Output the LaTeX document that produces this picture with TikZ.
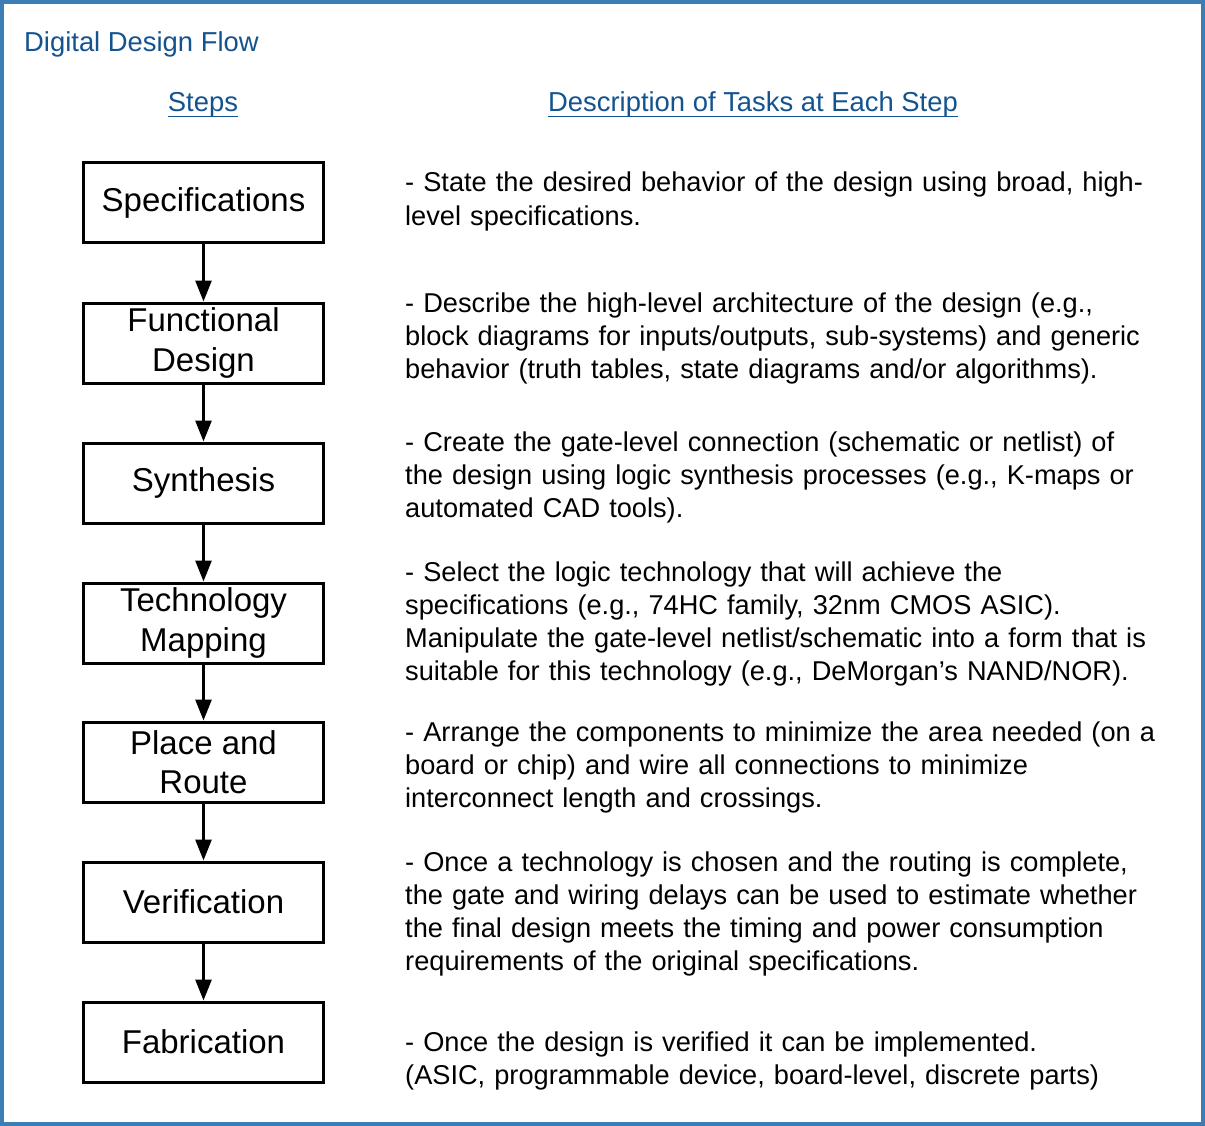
\documentclass[tikz,border=0pt]{standalone}
\usepackage{fontspec}
\setmainfont{Liberation Sans}
\usetikzlibrary{arrows.meta}
\definecolor{framecol}{HTML}{3C7DB5}
\definecolor{headcol}{HTML}{13538F}
\begin{document}
\begin{tikzpicture}[x=1pt,y=-1pt,
 stepbox/.style={draw,line width=3pt,minimum width=240pt,minimum height=80pt,inner sep=0pt,align=center,font=\fontsize{33}{39.5}\selectfont},
 desc/.style={anchor=base west,align=left,inner sep=0pt,text width=790pt,font=\fontsize{27.2}{33.2}\selectfont},
 flow/.style={line width=2.8pt,-{Triangle[length=21pt,width=16pt]}},
 head/.style={text=headcol,font=\fontsize{27.4}{33}\selectfont,inner sep=0pt},
 uline/.style={draw=headcol,line width=1.8pt}]
\useasboundingbox (0,0) rectangle (1205,1126);
\draw[framecol,line width=4pt] (2,2) rectangle (1203,1124);

\node[head,anchor=base west] (title) at (24,52) {Digital Design Flow};
\node[head,anchor=base] (hsteps) at (203,112) {Steps};
\node[head,anchor=base] (hdesc) at (753,112) {Description of Tasks at Each Step};
\draw[uline] ([yshift=-4.5pt]hsteps.base west) -- ([yshift=-4.5pt]hsteps.base east);
\draw[uline] ([yshift=-4.5pt]hdesc.base west) -- ([yshift=-4.5pt]hdesc.base east);

\node[stepbox] (s1) at (203.5,203) {Specifications};
\node[stepbox] (s2) at (203.5,343) {Functional\\Design};
\node[stepbox] (s3) at (203.5,483) {Synthesis};
\node[stepbox] (s4) at (203.5,623) {Technology\\Mapping};
\node[stepbox] (s5) at (203.5,762) {Place and\\Route};
\node[stepbox] (s6) at (203.5,902) {Verification};
\node[stepbox] (s7) at (203.5,1042) {Fabrication};

\draw[flow] (s1) -- (s2);
\draw[flow] (s2) -- (s3);
\draw[flow] (s3) -- (s4);
\draw[flow] (s4) -- (s5);
\draw[flow] (s5) -- (s6);
\draw[flow] (s6) -- (s7);

\node[desc] (d1) at (405,192) {- State the desired behavior of the design using broad, high-\\level specifications.};
\node[desc] (d2) at (405,312) {- Describe the high-level architecture of the design (e.g.,\\block diagrams for inputs/outputs, sub-systems) and generic\\behavior (truth tables, state diagrams and/or algorithms).};
\node[desc] (d3) at (405,451) {- Create the gate-level connection (schematic or netlist) of\\the design using logic synthesis processes (e.g., K-maps or\\automated CAD tools).};
\node[desc] (d4) at (405,581) {- Select the logic technology that will achieve the\\specifications (e.g., 74HC family, 32nm CMOS ASIC).\\Manipulate the gate-level netlist/schematic into a form that is\\suitable for this technology (e.g., DeMorgan’s NAND/NOR).};
\node[desc] (d5) at (405,741) {- Arrange the components to minimize the area needed (on a\\board or chip) and wire all connections to minimize\\interconnect length and crossings.};
\node[desc] (d6) at (405,871) {- Once a technology is chosen and the routing is complete,\\the gate and wiring delays can be used to estimate whether\\the final design meets the timing and power consumption\\requirements of the original specifications.};
\node[desc] (d7) at (405,1051) {- Once the design is verified it can be implemented.\\(ASIC, programmable device, board-level, discrete parts)};
\end{tikzpicture}
\end{document}
